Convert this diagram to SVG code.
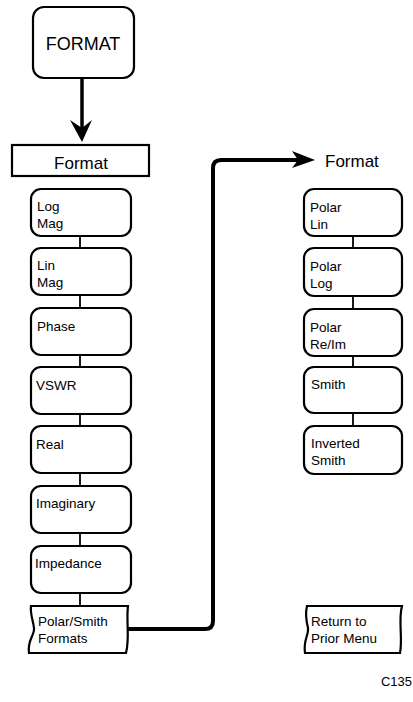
<svg xmlns="http://www.w3.org/2000/svg" width="413" height="702" viewBox="0 0 413 702">
<style>
  .box { fill: #fff; stroke: #000; stroke-width: 2.2; }
  .t { font-family: "Liberation Sans", Arial, sans-serif; font-size: 13.5px; fill: #000; }
  .big { font-family: "Liberation Sans", Arial, sans-serif; fill: #000; }
  .link { stroke: #000; stroke-width: 1.8; fill: none; }
  .thick { stroke: #000; stroke-width: 4; fill: none; stroke-linejoin: round; }
</style>
<rect width="413" height="702" fill="#fff"/>

<g id="connectors">
  <line class="thick" x1="82" y1="78" x2="82" y2="128" style="stroke-width:3.5"/>
  <path d="M70,120 L82,142 L92,120 L82,128 Z" fill="#000"/>
  <line class="link" x1="80" y1="236" x2="80" y2="248"/>
  <line class="link" x1="80" y1="295" x2="80" y2="308"/>
  <line class="link" x1="80" y1="355" x2="80" y2="367"/>
  <line class="link" x1="80" y1="414" x2="80" y2="426"/>
  <line class="link" x1="80" y1="473" x2="80" y2="486"/>
  <line class="link" x1="80" y1="533" x2="80" y2="546"/>
  <line class="link" x1="80" y1="593" x2="80" y2="606"/>
  <line class="link" x1="353" y1="236" x2="353" y2="248"/>
  <line class="link" x1="353" y1="296" x2="353" y2="309"/>
  <line class="link" x1="353" y1="356" x2="353" y2="367"/>
  <line class="link" x1="353" y1="413" x2="353" y2="426"/>
  <path class="thick" d="M128,629 L205,629 Q213,629 213,621 L213,168 Q213,160 221,160 L300,160"/>
  <path d="M292,151 L315,160 L292,168 L298,160 Z" fill="#000"/>
</g>

<g id="format-key">
  <rect class="box" x="33" y="7" width="101" height="71" rx="11"/>
  <text class="big" x="83" y="50" font-size="18" text-anchor="middle">FORMAT</text>
</g>

<g id="format-title">
  <rect class="box" x="12" y="145" width="137" height="31"/>
  <text class="big" x="81" y="169" font-size="17" text-anchor="middle">Format</text>
</g>

<g id="log-mag">
  <rect class="box" x="31" y="189" width="100" height="47" rx="10"/>
  <text class="t" x="37" y="211">Log</text>
  <text class="t" x="37" y="228">Mag</text>
</g>
<g id="lin-mag">
  <rect class="box" x="31" y="248" width="100" height="47" rx="10"/>
  <text class="t" x="37" y="270">Lin</text>
  <text class="t" x="37" y="287">Mag</text>
</g>
<g id="phase">
  <rect class="box" x="31" y="308" width="100" height="47" rx="10"/>
  <text class="t" x="37" y="331">Phase</text>
</g>
<g id="vswr">
  <rect class="box" x="31" y="367" width="100" height="47" rx="10"/>
  <text class="t" x="36" y="390">VSWR</text>
</g>
<g id="real">
  <rect class="box" x="31" y="426" width="100" height="47" rx="10"/>
  <text class="t" x="36" y="449">Real</text>
</g>
<g id="imaginary">
  <rect class="box" x="31" y="486" width="100" height="47" rx="10"/>
  <text class="t" x="36" y="508">Imaginary</text>
</g>
<g id="impedance">
  <rect class="box" x="31" y="546" width="100" height="47" rx="10"/>
  <text class="t" x="35" y="568">Impedance</text>
</g>
<g id="polar-smith">
  <path class="box" d="M31,606 L128,606 C126,622 130,638 126,653 L29,653 C27,640 35,635 34,628 C33,620 30,614 31,606 Z"/>
  <text class="t" x="38" y="626">Polar/Smith</text>
  <text class="t" x="38" y="643">Formats</text>
</g>

<g id="format-title-2">
  <text class="big" x="325" y="167" font-size="17">Format</text>
</g>

<g id="polar-lin">
  <rect class="box" x="304" y="189" width="98" height="47" rx="10"/>
  <text class="t" x="310" y="212">Polar</text>
  <text class="t" x="310" y="229">Lin</text>
</g>
<g id="polar-log">
  <rect class="box" x="304" y="248" width="98" height="48" rx="10"/>
  <text class="t" x="310" y="271">Polar</text>
  <text class="t" x="310" y="288">Log</text>
</g>
<g id="polar-reim">
  <rect class="box" x="304" y="309" width="98" height="47" rx="10"/>
  <text class="t" x="310" y="332">Polar</text>
  <text class="t" x="310" y="349">Re/Im</text>
</g>
<g id="smith">
  <rect class="box" x="304" y="367" width="98" height="46" rx="10"/>
  <text class="t" x="311" y="389">Smith</text>
</g>
<g id="inverted-smith">
  <rect class="box" x="304" y="426" width="98" height="48" rx="10"/>
  <text class="t" x="311" y="448">Inverted</text>
  <text class="t" x="311" y="465">Smith</text>
</g>
<g id="return">
  <path class="box" d="M307,606 L402,606 C398,620 403,638 400,653 L305,653 C303,640 309,635 308,628 C306,620 305,614 307,606 Z"/>
  <text class="t" x="311" y="626">Return to</text>
  <text class="t" x="311" y="643">Prior Menu</text>
</g>

<text class="big" x="412" y="686" font-size="13" text-anchor="end">C135</text>
</svg>
